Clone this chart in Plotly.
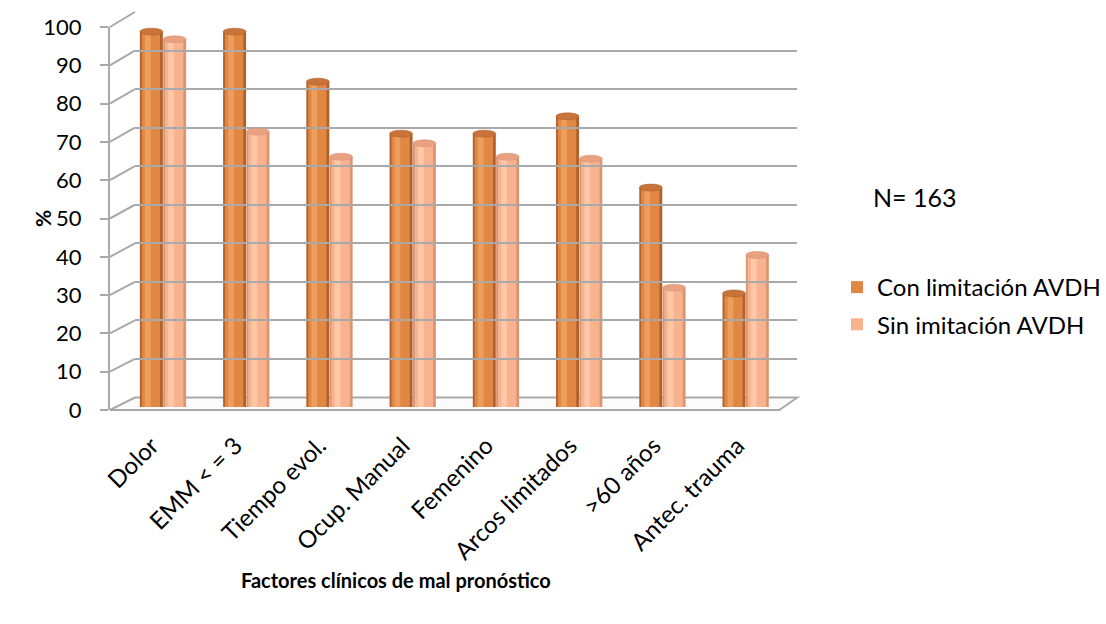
import plotly.graph_objects as go

# ---- data ----
categories = ["Dolor", "EMM < = 3", "Tiempo evol.", "Ocup. Manual", "Femenino",
              "Arcos limitados", ">60 años", "Antec. trauma"]
con_limitacion = [97.5, 97.5, 84.5, 71, 71, 75.5, 57, 29.5]
sin_limitacion = [95.5, 71.5, 65, 68.5, 65, 64.5, 31, 39.5]
y_ticks = list(range(0, 101, 10))
series_names = ["Con limitación AVDH", "Sin imitación AVDH"]

# ---- geometry helpers (pixel -> paper) ----
W, H = 1106, 624
FONT = "Lato"
GRID = "#A9A9A9"


def fx(px):
    return px / W


def fy(py):
    return 1 - py / H


# front plane: axis line and floor edge
FRONT_X0, FRONT_X1 = 110, 780
FRONT_Y0, FRONT_Y100 = 410, 27
# back wall
BACK_X0, BACK_X1 = 135, 798
BACK_Y0, BACK_Y100 = 397.5, 12
# plane holding the cylinders (mid depth)
BAR_X0, BAR_X1 = 121.5, 788
BAR_Y0, BAR_Y100 = 407, 22


def front_y(v):
    return FRONT_Y0 + (FRONT_Y100 - FRONT_Y0) * v / 100


def back_y(v):
    return BACK_Y0 + (BACK_Y100 - BACK_Y0) * v / 100


xs = list(range(len(categories)))
BW = 0.276  # cylinder width in category units

styles = [
    dict(edge="#B0602A", main="#DF8743", light="#EE9E5C", cap="#C9733A", pos=-BW - 0.002),
    dict(edge="#D99473", main="#F8B38E", light="#FCC8A8", cap="#E9A181", pos=0.002),
]

fig = go.Figure()

# back wall with its horizontal gridlines
fig.add_trace(go.Scatter(x=[0], y=[0], xaxis="x2", yaxis="y2", mode="markers",
                         marker=dict(opacity=0), showlegend=False, hoverinfo="skip"))
# front axis carrying the tick labels
fig.add_trace(go.Scatter(x=[0], y=[0], xaxis="x3", yaxis="y3", mode="markers",
                         marker=dict(opacity=0), showlegend=False, hoverinfo="skip"))

# cylinders: shaded layers of the same values
for name, vals, st in zip(series_names, [con_limitacion, sin_limitacion], styles):
    fig.add_trace(go.Bar(x=xs, y=vals, width=BW, offset=st["pos"], name=name,
                         marker=dict(color=st["edge"], line=dict(width=0)),
                         showlegend=False, hoverinfo="skip"))
    fig.add_trace(go.Bar(x=xs, y=vals, width=BW * 0.8, offset=st["pos"] + BW * 0.08,
                         name=name, legendgroup=name,
                         marker=dict(color=st["main"], line=dict(width=0)),
                         showlegend=True))
    fig.add_trace(go.Bar(x=xs, y=vals, width=BW * 0.25, offset=st["pos"] + BW * 0.22,
                         marker=dict(color=st["light"], line=dict(width=0)),
                         showlegend=False, hoverinfo="skip"))

shapes = []
# tops of the cylinders
for vals, st in zip([con_limitacion, sin_limitacion], styles):
    for x, v in zip(xs, vals):
        shapes.append(dict(type="circle", xref="x", yref="y", layer="above",
                           x0=x + st["pos"], x1=x + st["pos"] + BW, y0=v - 0.9, y1=v + 0.9,
                           fillcolor=st["cap"], line=dict(color=st["edge"], width=0.6)))

# side wall: diagonals from the front ticks to the back gridlines
for v in y_ticks[1:]:
    shapes.append(dict(type="line", xref="paper", yref="paper", layer="below",
                       x0=fx(FRONT_X0), y0=fy(front_y(v)), x1=fx(BACK_X0), y1=fy(back_y(v)),
                       line=dict(color=GRID, width=2)))
# floor
floor_path = (f"M {fx(FRONT_X0)},{fy(FRONT_Y0)} L {fx(FRONT_X1)},{fy(FRONT_Y0)} "
              f"L {fx(BACK_X1)},{fy(BACK_Y0)} L {fx(BACK_X0)},{fy(BACK_Y0)} Z")
shapes.append(dict(type="path", xref="paper", yref="paper", layer="below", path=floor_path,
                   fillcolor="#FBFBFB", line=dict(color=GRID, width=2)))

fig.update_layout(
    template="none",
    width=W, height=H,
    margin=dict(l=0, r=0, t=0, b=0),
    paper_bgcolor="white", plot_bgcolor="rgba(0,0,0,0)",
    font=dict(family=FONT, size=24, color="black"),
    barmode="overlay",
    showlegend=True,
    legend=dict(x=fx(838), y=fy(265), xanchor="left", yanchor="top",
                bgcolor="rgba(0,0,0,0)", tracegroupgap=3,
                font=dict(family=FONT, size=24, color="black")),
    xaxis=dict(domain=[fx(BAR_X0), fx(BAR_X1)], range=[-0.5, 7.5], visible=False,
               anchor="y", automargin=False),
    yaxis=dict(domain=[fy(BAR_Y0), fy(BAR_Y100)], range=[0, 100], visible=False,
               anchor="x", automargin=False),
    xaxis2=dict(domain=[fx(BACK_X0), fx(BACK_X1)], range=[0, 1], visible=False,
                anchor="y2", automargin=False),
    yaxis2=dict(domain=[fy(BACK_Y0), fy(BACK_Y100)], range=[0, 100], anchor="x2",
                tickvals=y_ticks, showticklabels=False, ticks="", showline=False,
                zeroline=False, showgrid=True, gridcolor=GRID, gridwidth=2,
                automargin=False),
    xaxis3=dict(domain=[fx(FRONT_X0), fx(FRONT_X1)], range=[-0.5, 7.5], anchor="y3",
                tickvals=xs, ticktext=categories, tickangle=-45, ticks="",
                showline=False, showgrid=False, zeroline=False, automargin=False,
                ticklabelstandoff=16, tickfont=dict(family=FONT, size=24)),
    yaxis3=dict(domain=[fy(FRONT_Y0), fy(FRONT_Y100)], range=[0, 100], anchor="x3",
                tickvals=y_ticks, ticks="outside", ticklen=8, tickwidth=2, tickcolor=GRID,
                showline=True, linecolor=GRID, linewidth=2, showgrid=False, zeroline=False,
                automargin=False, ticklabelstandoff=14,
                tickfont=dict(family=FONT, size=22)),
    shapes=shapes,
    annotations=[
        dict(text="N= 163", xref="paper", yref="paper", x=fx(872), y=fy(197),
             xanchor="left", yanchor="middle", showarrow=False,
             font=dict(family=FONT, size=25, color="black")),
        dict(text="<b>%</b>", xref="paper", yref="paper", x=fx(42), y=fy(218),
             xanchor="center", yanchor="middle", textangle=-90, showarrow=False,
             font=dict(family=FONT, size=21, color="black")),
        dict(text="<b>Factores clínicos de mal pronóstico</b>", xref="paper", yref="paper",
             x=fx(396), y=fy(580), xanchor="center", yanchor="middle", showarrow=False,
             font=dict(family=FONT, size=20, color="black")),
    ],
)

fig.write_html("out.html")
